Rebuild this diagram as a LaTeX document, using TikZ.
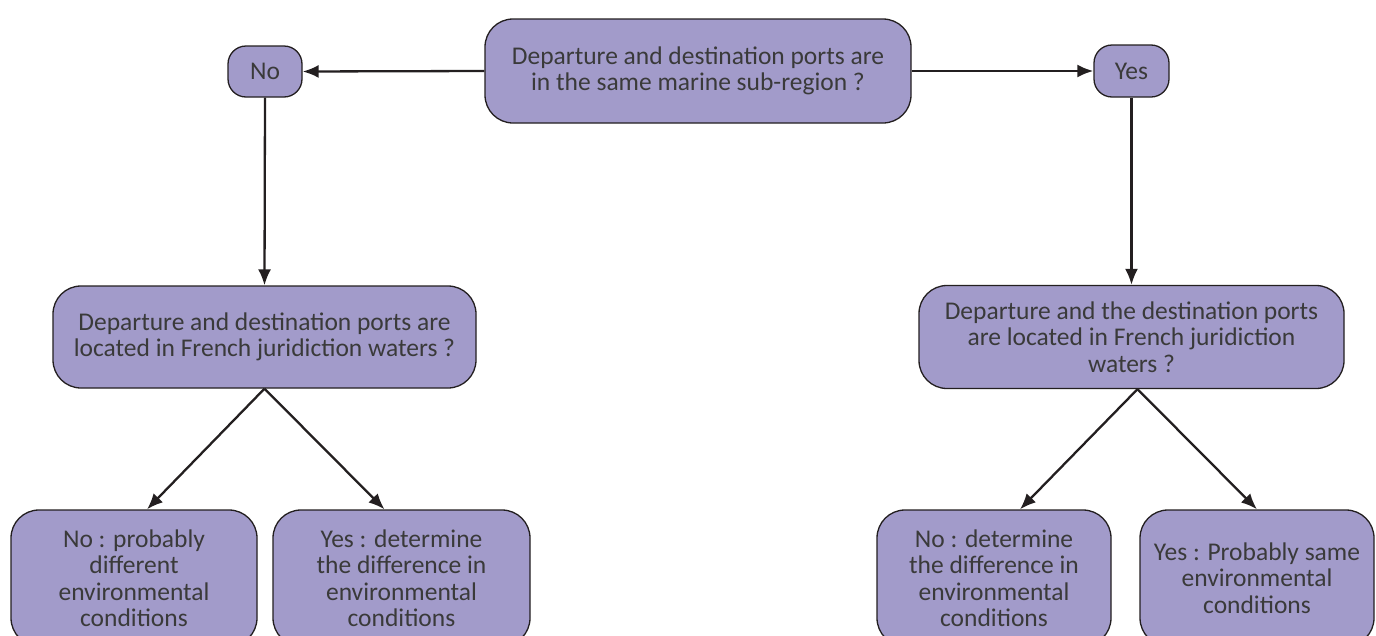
\documentclass[tikz,border=0pt]{standalone}
\usepackage{fontspec}
\setmainfont{Carlito}
\usetikzlibrary{arrows.meta}

\definecolor{boxfill}{HTML}{A29BCA}
\definecolor{boxline}{HTML}{231F20}
\definecolor{boxtext}{HTML}{3A3A3A}

\tikzset{
  choice/.style = {draw = boxline, line width = 1.3pt, fill = boxfill,
                   rounded corners = 28pt, align = center,
                   text = boxtext, inner sep = 0pt,
                   font = \fontsize{25.5}{26.5}\selectfont},
  smallchoice/.style = {choice, rounded corners = 18pt},
  flow/.style = {line width = 2.3pt, draw = boxline,
                 -{Latex[length = 16pt, width = 13pt]}}
}

\begin{document}
\begin{tikzpicture}[x = 1pt, y = -1pt]
        \useasboundingbox (0,0) rectangle (1376,635);
        \clip (0,0) rectangle (1376,635);

        \node[choice, minimum width = 426pt, minimum height = 104pt] (q1) at (698,71)
             {Departure and destination ports are\\in the same marine sub-region ?};
        \node[smallchoice, minimum width = 74pt, minimum height = 51pt] (no) at (265,71.5) {No};
        \node[smallchoice, minimum width = 75pt, minimum height = 52pt] (yes) at (1131.5,71) {Yes};

        \node[choice, minimum width = 423pt, minimum height = 102pt] (qleft) at (264.5,337)
             {Departure and destination ports are\\located in French juridiction waters ?};
        \node[choice, minimum width = 425pt, minimum height = 103pt] (qright) at (1131.5,337)
             {Departure and the destination ports\\are located in French juridiction\\waters ?};

        \node[choice, minimum width = 246pt, minimum height = 136pt] (nodiff) at (134,578)
             {No : probably\\different\\environmental\\conditions};
        \node[choice, minimum width = 257pt, minimum height = 136pt] (yesdiff) at (401.5,578)
             {Yes : determine\\the difference in\\environmental\\conditions};
        \node[choice, minimum width = 234pt, minimum height = 136pt] (nodet) at (994,578)
             {No : determine\\the difference in\\environmental\\conditions};
        \node[choice, minimum width = 234pt, minimum height = 136pt] (yessame) at (1257,578)
             {Yes : Probably same\\environmental\\conditions};

        \draw[flow] (q1.west) -- (no.east);
        \draw[flow] (q1.east) -- (yes.west);
        \draw[flow] (no.south) -- (qleft.north);
        \draw[flow] (yes.south) -- (qright.north);

        \draw[flow] (qleft.south) -- ([xshift = 13pt]nodiff.north);
        \draw[flow] (qleft.south) -- ([xshift = -17pt]yesdiff.north);
        \draw[flow] ([xshift = 6pt]qright.south) -- ([xshift = 26pt]nodet.north);
        \draw[flow] ([xshift = 6pt]qright.south) -- (yessame.north);
      \end{tikzpicture}
\end{document}
